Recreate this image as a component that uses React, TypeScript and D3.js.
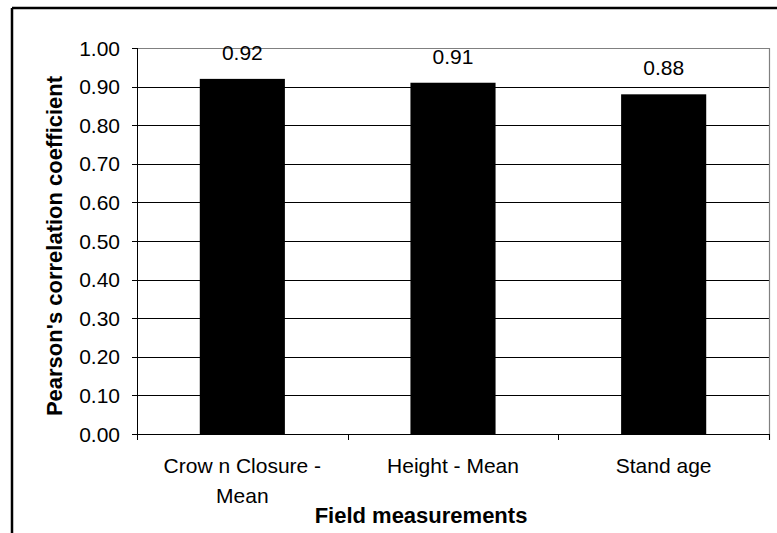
import React from "react";
import * as d3 from "d3";

const categories: string[][] = [["Crow n Closure -", "Mean"], ["Height - Mean"], ["Stand age"]];
const categoryKeys = ["crown", "height", "age"];
const values = [0.92, 0.91, 0.88];
const valueLabels = ["0.92", "0.91", "0.88"];
const yTicks = [0, 0.1, 0.2, 0.3, 0.4, 0.5, 0.6, 0.7, 0.8, 0.9, 1.0];
const yTitle = "Pearson's correlation coefficient";
const xTitle = "Field measurements";

const W = 777;
const H = 533;
const left = 137;
const right = 769;
const top = 48;
const bottom = 434;
const font = "'Liberation Sans', Arial, sans-serif";

export default function App() {
  const x = d3.scaleBand<string>().domain(categoryKeys).range([left, right]).padding(0);
  const y = d3.scaleLinear().domain([0, 1]).range([bottom, top]);
  const bw = x.bandwidth() * 0.404;
  const bounds = [left, ...categoryKeys.map((k) => (x(k) as number) + x.bandwidth())];

  return (
    <svg width={W} height={H} style={{ position: "absolute", left: 0, top: 0, background: "#fff" }}>
      <rect x={0} y={0} width={W} height={H} fill="#fff" />
      {/* outer frame (cropped) */}
      <line x1={12} y1={8} x2={W + 5} y2={8} stroke="#000" strokeWidth={2.5} />
      <line x1={12} y1={8} x2={12} y2={H + 5} stroke="#000" strokeWidth={2.5} />

      {/* gridlines */}
      {yTicks.slice(1, -1).map((t) => (
        <line key={t} x1={left} x2={right} y1={Math.round(y(t)) + 0.5} y2={Math.round(y(t)) + 0.5} stroke="#000" strokeWidth={1} />
      ))}
      {/* plot border top/right */}
      <line x1={left} x2={right} y1={top + 0.5} y2={top + 0.5} stroke="#808080" strokeWidth={1.2} />
      <line x1={right + 0.5} x2={right + 0.5} y1={top} y2={bottom + 6} stroke="#808080" strokeWidth={1.2} />

      {/* bars */}
      {categoryKeys.map((k, i) => {
        const cx = (x(k) as number) + x.bandwidth() / 2;
        return (
          <g key={k}>
            <rect x={cx - bw / 2} y={y(values[i])} width={bw} height={bottom - y(values[i])} fill="#000" />
            <text x={cx} y={y(values[i]) - 19} textAnchor="middle" fontFamily={font} fontSize={21} fill="#000">
              {valueLabels[i]}
            </text>
          </g>
        );
      })}

      {/* y axis */}
      <line x1={left + 0.5} x2={left + 0.5} y1={top} y2={bottom} stroke="#000" strokeWidth={1} />
      {yTicks.map((t) => (
        <g key={t}>
          <line x1={left - 5} x2={left} y1={Math.round(y(t)) + 0.5} y2={Math.round(y(t)) + 0.5} stroke="#000" strokeWidth={1} />
          <text x={120} y={y(t)} dy="0.36em" textAnchor="end" fontFamily={font} fontSize={21} fill="#000">
            {t.toFixed(2)}
          </text>
        </g>
      ))}

      {/* x axis */}
      <line x1={left} x2={right} y1={bottom + 0.5} y2={bottom + 0.5} stroke="#000" strokeWidth={1} />
      {bounds.map((b, i) => (
        <line key={i} x1={Math.round(b) + 0.5} x2={Math.round(b) + 0.5} y1={bottom} y2={bottom + 6} stroke="#000" strokeWidth={1} />
      ))}
      {categoryKeys.map((k, i) => {
        const cx = (x(k) as number) + x.bandwidth() / 2;
        return (
          <text key={k} textAnchor="middle" fontFamily={font} fontSize={21} fill="#000">
            {categories[i].map((line, j) => (
              <tspan key={j} x={cx} y={473 + j * 30}>
                {line}
              </tspan>
            ))}
          </text>
        );
      })}

      {/* axis titles */}
      <text x={421} y={523} textAnchor="middle" fontFamily={font} fontSize={22} fontWeight="bold" fill="#000">
        {xTitle}
      </text>
      <text
        transform={`translate(62, ${(top + bottom) / 2 + 5}) rotate(-90)`}
        textAnchor="middle"
        fontFamily={font}
        fontSize={22}
        fontWeight="bold"
        fill="#000"
      >
        {yTitle}
      </text>
    </svg>
  );
}
